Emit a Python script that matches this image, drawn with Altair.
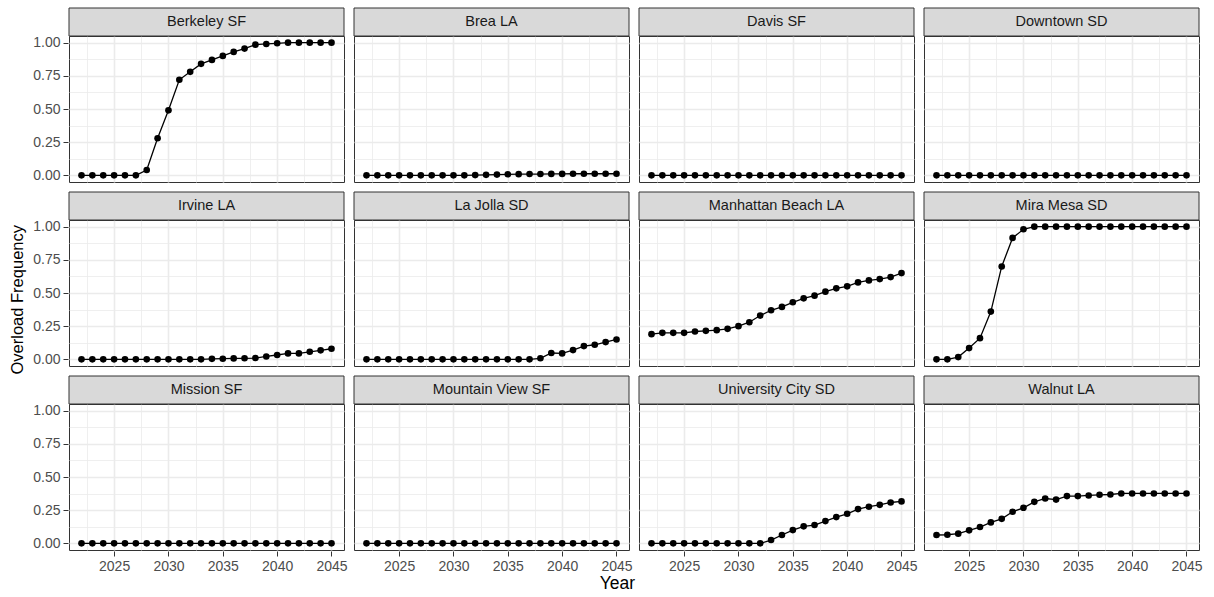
import altair as alt
import pandas as pd

years = [2022, 2023, 2024, 2025, 2026, 2027, 2028, 2029, 2030, 2031, 2032, 2033,
         2034, 2035, 2036, 2037, 2038, 2039, 2040, 2041, 2042, 2043, 2044, 2045]

sites = ["Berkeley SF", "Brea LA", "Davis SF", "Downtown SD",
         "Irvine LA", "La Jolla SD", "Manhattan Beach LA", "Mira Mesa SD",
         "Mission SF", "Mountain View SF", "University City SD", "Walnut LA"]

berkeley_sf = [0, 0, 0, 0, 0, 0, 0.04, 0.28, 0.49, 0.72, 0.78, 0.84,
               0.87, 0.90, 0.93, 0.955, 0.985, 0.99, 0.995, 1, 1, 1, 1, 1]
brea_la = [0, 0, 0, 0, 0, 0, 0, 0, 0, 0, 0.002, 0.004,
           0.006, 0.008, 0.009, 0.01, 0.01, 0.011, 0.011, 0.012, 0.012, 0.012, 0.012, 0.012]
davis_sf = [0, 0, 0, 0, 0, 0, 0, 0, 0, 0, 0, 0,
            0, 0, 0, 0, 0, 0, 0, 0, 0, 0, 0, 0]
downtown_sd = [0, 0, 0, 0, 0, 0, 0, 0, 0, 0, 0, 0,
               0, 0, 0, 0, 0, 0, 0, 0, 0, 0, 0, 0]
irvine_la = [0, 0, 0, 0, 0, 0, 0, 0, 0, 0, 0, 0,
             0.004, 0.005, 0.007, 0.008, 0.01, 0.022, 0.033, 0.045, 0.045, 0.057, 0.068, 0.08]
la_jolla_sd = [0, 0, 0, 0, 0, 0, 0, 0, 0, 0, 0, 0,
               0, 0, 0, 0, 0.008, 0.048, 0.045, 0.07, 0.10, 0.11, 0.13, 0.15]
manhattan_beach_la = [0.19, 0.20, 0.20, 0.20, 0.21, 0.215, 0.22, 0.23, 0.25, 0.28, 0.33, 0.37,
                      0.395, 0.43, 0.46, 0.48, 0.51, 0.535, 0.55, 0.58, 0.595, 0.605, 0.62, 0.65]
mira_mesa_sd = [0, 0, 0.017, 0.085, 0.16, 0.36, 0.70, 0.915, 0.98, 1, 1, 1,
                1, 1, 1, 1, 1, 1, 1, 1, 1, 1, 1, 1]
mission_sf = [0, 0, 0, 0, 0, 0, 0, 0, 0, 0, 0, 0,
              0, 0, 0, 0, 0, 0, 0, 0, 0, 0, 0, 0]
mountain_view_sf = [0, 0, 0, 0, 0, 0, 0, 0, 0, 0, 0, 0,
                    0, 0, 0, 0, 0, 0, 0, 0, 0, 0, 0, 0]
university_city_sd = [0, 0, 0, 0, 0, 0, 0, 0, 0, 0, 0, 0.025,
                      0.063, 0.10, 0.128, 0.138, 0.168, 0.198, 0.223, 0.258, 0.276, 0.29, 0.308, 0.316]
walnut_la = [0.063, 0.065, 0.073, 0.098, 0.123, 0.158, 0.185, 0.238, 0.268, 0.313, 0.338, 0.33,
             0.356, 0.356, 0.361, 0.366, 0.368, 0.376, 0.376, 0.376, 0.376, 0.376, 0.376, 0.376]

series = [berkeley_sf, brea_la, davis_sf, downtown_sd,
          irvine_la, la_jolla_sd, manhattan_beach_la, mira_mesa_sd,
          mission_sf, mountain_view_sf, university_city_sd, walnut_la]

x_ticks = [2022.5, 2025, 2027.5, 2030, 2032.5, 2035, 2037.5, 2040, 2042.5, 2045]
y_ticks = [0, 0.125, 0.25, 0.375, 0.5, 0.625, 0.75, 0.875, 1.0]

rows = []
for s, vals in zip(sites, series):
    for yr, v in zip(years, vals):
        rows.append({"site": s, "year": yr, "freq": v})
df = pd.DataFrame(rows)

W, H, STRIP = 275, 146, 28
FONT = "Liberation Sans"

x_minor = "datum.value % 5 != 0"
y_minor = "(datum.value * 4) % 1 != 0"

x_enc = alt.X(
    "year:Q",
    scale=alt.Scale(domain=[2020.85, 2046.15], nice=False, zero=False),
    axis=alt.Axis(
        title=None, values=x_ticks, format="d",
        labelExpr="datum.value % 5 == 0 ? datum.label : ''",
        labelOverlap=False,
        gridWidth={"condition": {"test": x_minor, "value": 0.8}, "value": 1.6},
        tickColor={"condition": {"test": x_minor, "value": "transparent"}, "value": "#333333"},
    ),
)
y_enc = alt.Y(
    "freq:Q",
    scale=alt.Scale(domain=[-0.05, 1.05], nice=False, zero=False),
    axis=alt.Axis(
        title=None, values=y_ticks,
        labelExpr="(datum.value * 4) % 1 == 0 ? format(datum.value, '.2f') : ''",
        labelOverlap=False,
        gridWidth={"condition": {"test": y_minor, "value": 0.8}, "value": 1.6},
        tickColor={"condition": {"test": y_minor, "value": "transparent"}, "value": "#333333"},
    ),
)

base = alt.Chart()
line = base.mark_line(color="black", strokeWidth=1.3).encode(x=x_enc, y=y_enc)
pts = base.mark_circle(color="black", opacity=1, size=44).encode(x=x_enc, y=y_enc)
strip_rect = base.mark_rect(fill="#D9D9D9", stroke="#333333", strokeWidth=1).encode(
    x=alt.value(0), x2=alt.value(W), y=alt.value(-STRIP), y2=alt.value(0)
).transform_filter("datum.year == 2022")
strip_text = base.mark_text(fontSize=14.5, color="#1A1A1A", font=FONT).encode(
    text="site:N", x=alt.value(W / 2), y=alt.value(-STRIP / 2)
).transform_filter("datum.year == 2022")

panel = alt.layer(line, pts, strip_rect, strip_text, data=df).properties(width=W, height=H)

facet = panel.facet(
    facet=alt.Facet("site:N", sort=sites,
                    header=alt.Header(title=None, labels=False, labelExpr="''",
                                      labelFontSize=0, labelPadding=0)),
    columns=4,
    spacing={"row": 8, "column": 8},
).properties(
    title=alt.TitleParams("Year", orient="bottom", anchor="middle", font=FONT,
                          fontSize=17.5, fontWeight="normal", color="black", offset=2)
)

chart = alt.vconcat(facet).properties(
    title=alt.TitleParams("Overload Frequency", orient="left", anchor="middle", font=FONT,
                          fontSize=16.5, fontWeight="normal", color="black", offset=6),
    padding={"left": 10, "top": 7, "right": 10, "bottom": 4},
).configure_view(
    stroke="#333333", strokeWidth=1
).configure_header(
    labels=False, title=None, labelPadding=0, titlePadding=0
).configure_axis(
    domain=False, labelFont=FONT, labelFontSize=14, labelColor="#4D4D4D",
    tickSize=5, tickWidth=1, gridColor="#EBEBEB", labelPadding=3
)

chart.save("out.html", embed_options={"renderer": "svg", "actions": False})
